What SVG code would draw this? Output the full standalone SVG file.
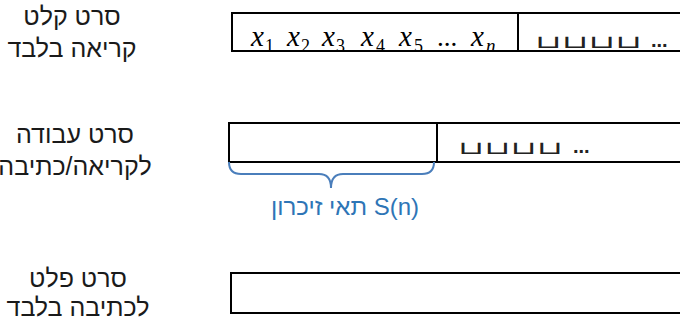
<svg xmlns="http://www.w3.org/2000/svg" width="680" height="324" viewBox="0 0 680 324">
<style>
.lbl{font-family:"Liberation Sans","DejaVu Sans",sans-serif;font-size:25px;fill:#1a1a1a;text-anchor:middle}
.tape{fill:none;stroke:#000;stroke-width:2}
.mx{font-family:"Liberation Serif","DejaVu Serif",serif;font-style:italic;font-size:29px;fill:#000}
.sub{font-family:"Liberation Serif","DejaVu Serif",serif;font-size:18px;fill:#000}
.dots{font-family:"Liberation Serif","DejaVu Serif",serif;font-size:27px;fill:#000}
.blank{font-family:"DejaVu Sans",sans-serif;font-size:18px;fill:#222}
.bdots{font-family:"Liberation Sans",sans-serif;font-size:20px;font-weight:700;fill:#222}
</style>
<rect width="680" height="324" fill="#fff"/>
<g id="input-label">
<text class="lbl" x="72" y="25">סרט קלט</text>
<text class="lbl" x="72" y="57">קריאה בלבד</text>
</g>
<g id="input-tape">
<path class="tape" d="M680 13H232V51H680M518 13V51"/>
<text class="mx" x="251" y="46">x</text><text class="sub" x="265" y="52">1</text>
<text class="mx" x="287" y="46">x</text><text class="sub" x="301" y="52">2</text>
<text class="mx" x="322" y="46">x</text><text class="sub" x="336" y="52">3</text>
<text class="mx" x="361" y="46">x</text><text class="sub" x="376" y="52">4</text>
<text class="mx" x="399" y="46">x</text><text class="sub" x="414" y="52">5</text>
<text class="dots" x="437" y="46">...</text>
<text class="mx" x="471" y="46">x</text><text class="mx" x="486" y="52" style="font-size:19px">n</text>
<text class="blank" x="535" y="48" textLength="107" lengthAdjust="spacingAndGlyphs">⊔⊔⊔⊔</text>
<text class="bdots" x="651" y="47">...</text>
</g>
<g id="work-label">
<text class="lbl" x="75" y="143">סרט עבודה</text>
<text class="lbl" x="75" y="175">לקריאה/כתיבה</text>
</g>
<g id="work-tape">
<path class="tape" d="M680 123H229V162H680M437 123V162"/>
<text class="blank" x="458" y="154" textLength="105" lengthAdjust="spacingAndGlyphs">⊔⊔⊔⊔</text>
<text class="bdots" x="573" y="153">...</text>
</g>
<g id="brace">
<path d="M229 162Q229 174 241 174H319Q331 174 331 188Q331 174 343 174H422Q434 174 434 162" fill="none" stroke="#4a7ebb" stroke-width="2"/>
<text x="345" y="215" style="font-family:'Liberation Sans','DejaVu Sans',sans-serif;font-size:24px;fill:#2e75b6;text-anchor:middle">תאי זיכרון S(n)</text>
</g>
<g id="output-label">
<text class="lbl" x="78" y="287">סרט פלט</text>
<text class="lbl" x="78" y="316">לכתיבה בלבד</text>
</g>
<g id="output-tape">
<path class="tape" d="M680 273H231V313H680"/>
</g>
</svg>
